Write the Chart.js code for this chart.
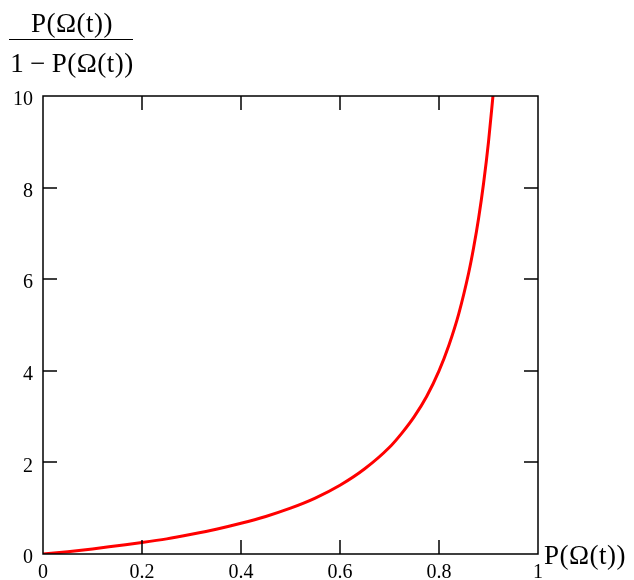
<!DOCTYPE html>
<html>
<head>
<meta charset="utf-8">
<script src="https://cdn.jsdelivr.net/npm/chart.js@4.4.1/dist/chart.umd.min.js"></script>
<style>
  body { margin: 0; background: #fff; }
  #wrap { position: relative; width: 634px; height: 580px; }
  .lbl { position: absolute; font-family: "Liberation Serif", serif; font-size: 27px; line-height: 31px; letter-spacing: 0.5px; color: #000; white-space: nowrap; }
  #num { left: 9px; top: 8px; width: 126px; text-align: center; }
  #bar { position: absolute; left: 9px; top: 39px; width: 124px; height: 0; border-top: 1.5px solid #000; }
  #den { left: 8px; top: 48px; width: 128px; text-align: center; }
  #xlab { left: 544px; top: 540px; }
</style>
</head>
<body>
<div id="wrap">
  <canvas id="chart" width="634" height="580"></canvas>
  <div class="lbl" id="num">P(Ω(t))</div>
  <div id="bar"></div>
  <div class="lbl" id="den">1&#8201;−&#8201;P(Ω(t))</div>
  <div class="lbl" id="xlab">P(Ω(t))</div>
</div>
<script>
// values
let pValues = [0, 0.05, 0.1, 0.15, 0.2, 0.25, 0.3, 0.35, 0.4, 0.45, 0.5, 0.55, 0.6, 0.65, 0.7, 0.725, 0.75, 0.775, 0.8, 0.82, 0.84, 0.86, 0.87, 0.88, 0.89, 0.9, 0.909];
let ratioValues = [0, 0.05, 0.11, 0.18, 0.25, 0.33, 0.43, 0.54, 0.67, 0.82, 1.0, 1.22, 1.5, 1.86, 2.33, 2.64, 3.0, 3.44, 4.0, 4.56, 5.25, 6.14, 6.69, 7.33, 8.09, 9.0, 10.0];
let xTicks = [0, 0.2, 0.4, 0.6, 0.8, 1];
let yTicks = [0, 2, 4, 6, 8, 10];

let points = [];
for (let i = 0; i < pValues.length; i++) {
    points.push({ x: pValues[i], y: ratioValues[i] });
}

// box frame with inward ticks, mathcad style
let frame = {
    id: 'frame',
    afterDatasetsDraw: function (chart) {
        let ctx = chart.ctx;
        let a = chart.chartArea;
        let xs = chart.scales.x;
        let ys = chart.scales.y;
        let len = 14;
        ctx.save();
        ctx.strokeStyle = '#000';
        ctx.lineWidth = 1.5;
        ctx.beginPath();
        ctx.rect(a.left, a.top, a.right - a.left, a.bottom - a.top);
        for (let i = 0; i < xTicks.length; i++) {
            let px = Math.round(xs.getPixelForValue(xTicks[i]));
            ctx.moveTo(px, a.bottom); ctx.lineTo(px, a.bottom - len);
            ctx.moveTo(px, a.top); ctx.lineTo(px, a.top + len);
        }
        for (let i = 0; i < yTicks.length; i++) {
            let py = Math.round(ys.getPixelForValue(yTicks[i]));
            ctx.moveTo(a.left, py); ctx.lineTo(a.left + len, py);
            ctx.moveTo(a.right, py); ctx.lineTo(a.right - len, py);
        }
        ctx.stroke();
        ctx.restore();
    }
};

let tickFont = { family: '"Liberation Serif", serif', size: 20 };

new Chart(document.getElementById('chart').getContext('2d'), {
    type: 'scatter',
    data: {
        datasets: [{
            data: points,
            showLine: true,
            borderColor: '#ff0000',
            borderWidth: 3,
            pointRadius: 0,
            cubicInterpolationMode: 'monotone',
            fill: false
        }]
    },
    options: {
        responsive: false,
        animation: false,
        events: [],
        layout: { padding: { top: 96, right: 96, left: 0, bottom: 0 } },
        plugins: { legend: { display: false }, tooltip: { enabled: false } },
        scales: {
            x: {
                type: 'linear', min: 0, max: 1,
                border: { display: false },
                grid: { display: false, drawTicks: false },
                afterBuildTicks: function (scale) { scale.ticks = xTicks.map(function (v) { return { value: v }; }); },
                afterFit: function (scale) { scale.height = 26; },
                ticks: { color: '#000', font: tickFont, padding: 7, maxRotation: 0, autoSkip: false,
                    callback: function (v) { return String(v); } }
            },
            y: {
                type: 'linear', min: 0, max: 10,
                border: { display: false },
                grid: { display: false, drawTicks: false },
                afterBuildTicks: function (scale) { scale.ticks = yTicks.map(function (v) { return { value: v }; }); },
                afterFit: function (scale) { scale.width = 43; },
                ticks: { color: '#000', font: tickFont, padding: 10, labelOffset: 4, autoSkip: false }
            }
        }
    },
    plugins: [frame]
});
</script>
</body>
</html>
